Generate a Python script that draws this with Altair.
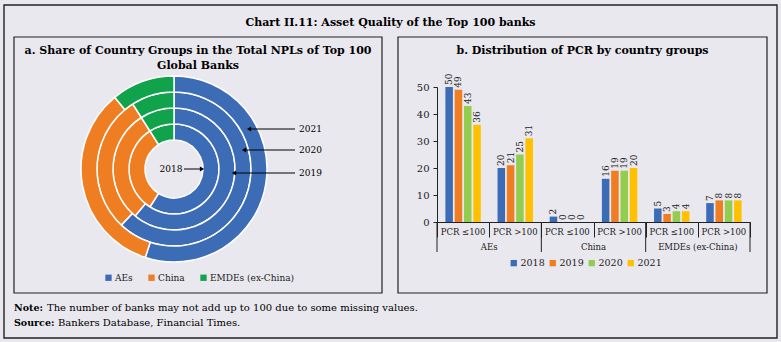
import altair as alt
import pandas as pd

# ---------------- data ----------------
years = ["2018", "2019", "2020", "2021"]
groups = ["AEs", "China", "EMDEs (ex-China)"]

# donut: share of NPLs (%) per year
ae_share = [59, 61, 62, 55]
china_share = [32, 30, 29, 34]
emde_share = [9, 9, 9, 11]

# bars: number of banks by PCR bucket
pcr_group = ["AEs", "AEs", "China", "China", "EMDEs (ex-China)", "EMDEs (ex-China)"]
pcr_bin = ["PCR ≤100", "PCR >100", "PCR ≤100", "PCR >100", "PCR ≤100", "PCR >100"]
v2018 = [50, 20, 2, 16, 5, 7]
v2019 = [49, 21, 0, 19, 3, 8]
v2020 = [43, 25, 0, 19, 4, 8]
v2021 = [36, 31, 0, 20, 4, 8]

# ---------------- styling ----------------
SERIF = "DejaVu Serif"
BG = "#e9e8ee"
INK = "#222222"
group_colors = ["#3d6cb6", "#ef7d22", "#11a24c"]
year_colors = ["#3d6cb6", "#ef7d22", "#92cd50", "#ffc000"]

# ---------------- tables ----------------
donut_rows = []
for yi, y in enumerate(years):
    for gi, (g, vals) in enumerate(zip(groups, [ae_share, china_share, emde_share])):
        donut_rows.append({"year": y, "group": g, "gi": gi, "share": vals[yi]})
donut_df = pd.DataFrame(donut_rows)

subs = [f"{g}|{b}" for g, b in zip(pcr_group, pcr_bin)]
bar_rows = []
for y, vals in zip(years, [v2018, v2019, v2020, v2021]):
    for s, g, b, v in zip(subs, pcr_group, pcr_bin, vals):
        bar_rows.append({"sub": s, "group": g, "bin": b, "year": y, "value": v})
bar_df = pd.DataFrame(bar_rows)
sub_df = pd.DataFrame({"sub": subs, "bin": pcr_bin, "group": pcr_group})
grp_first = sub_df.groupby("group", sort=False).nth(0).reset_index(drop=True)
grp_second = sub_df.groupby("group", sort=False).nth(1).reset_index(drop=True)

one = pd.DataFrame({"a": [0]})

# ---------------- shared scales ----------------
x_scale = alt.Scale(domain=subs, range=[437, 750], paddingInner=0, paddingOuter=0)
x_axis = alt.Axis(orient="bottom", offset=-120, labels=False, ticks=True, tickBand="extent",
                  tickSize=15, tickColor=INK, domainColor=INK, title=None, grid=False)
y_scale = alt.Scale(domain=[0, 50], range=[222, 87], nice=False)
y_axis = alt.Axis(orient="left", offset=-437, values=[0, 10, 20, 30, 40, 50], title=None, grid=False,
                  tickSize=4, tickColor=INK, domainColor=INK, labelFont=SERIF, labelFontSize=10,
                  labelColor=INK, labelPadding=4)


def X(**kw):
    return alt.X("sub:N", scale=x_scale, axis=x_axis, sort=subs, **kw)


# ---------------- frames ----------------
def box(x1, x2, y1, y2, sw=1.2):
    return alt.Chart(one).mark_rect(fill=None, stroke=INK, strokeWidth=sw).encode(
        x=alt.value(x1), x2=alt.value(x2), y=alt.value(y1), y2=alt.value(y2))


def label(text, x, y, size=10, weight="normal", align="center", lh=14):
    return alt.Chart(one).mark_text(text=text, font=SERIF, fontSize=size, fontWeight=weight,
                                    align=align, baseline="middle", color="black",
                                    lineHeight=lh).encode(x=alt.value(x), y=alt.value(y))


frames = [box(4, 777, 5, 338, 1.4), box(14, 382, 37, 293), box(398, 767, 37, 293)]
texts = [
    label("Chart II.11: Asset Quality of the Top 100 banks", 390.5, 23, size=11, weight="bold"),
    label(["a. Share of Country Groups in the Total NPLs of Top 100", "Global Banks"], 198, 51,
          size=11, weight="bold", lh=14.5),
    label("b. Distribution of PCR by country groups", 582.5, 51, size=11, weight="bold"),
    label("Note:", 14, 308, size=9.5, weight="bold", align="left"),
    label("The number of banks may not add up to 100 due to some missing values.", 47, 308,
          size=10, align="left"),
    label("Source:", 14, 323, size=9.5, weight="bold", align="left"),
    label("Bankers Database, Financial Times.", 58, 323, size=10, align="left"),
]

# ---------------- donut ----------------
CX, CY = 174, 169
radii = [29, 45, 61, 77, 93]
donut_legend = alt.Legend(orient="none", legendX=104, legendY=273, direction="horizontal", title=None,
                          symbolType="square", symbolSize=40, symbolStrokeWidth=0,
                          labelFont=SERIF, labelFontSize=9, labelColor=INK, columnPadding=14,
                          labelOffset=2)
rings = []
for i, y in enumerate(years):
    rings.append(
        alt.Chart(donut_df).transform_filter(alt.datum.year == y)
        .mark_arc(innerRadius=radii[i], outerRadius=radii[i + 1], stroke="white", strokeWidth=1.5)
        .encode(
            theta=alt.Theta("share:Q", stack="normalize"),
            color=alt.Color("group:N", scale=alt.Scale(domain=groups, range=group_colors),
                            legend=donut_legend),
            order=alt.Order("gi:Q"),
            x=alt.value(CX), y=alt.value(CY),
        )
    )
donut = alt.layer(*rings)

# ring annotations (arrows)
arrows = []
for txt, ty, x_to in [("2021", 129, 247), ("2020", 150, 242), ("2019", 173, 232)]:
    arrows.append(label(txt, 299, ty, size=9, align="left"))
    arrows.append(alt.Chart(one).mark_rule(color="black", strokeWidth=1).encode(
        x=alt.value(295), x2=alt.value(x_to + 3), y=alt.value(ty)))
    arrows.append(alt.Chart(one).mark_point(shape="triangle-left", filled=True, color="black",
                                            size=24, opacity=1).encode(
        x=alt.value(x_to + 2), y=alt.value(ty)))
arrows.append(label("2018", 171, 169, size=9))
arrows.append(alt.Chart(one).mark_rule(color="black", strokeWidth=1).encode(
    x=alt.value(184), x2=alt.value(201), y=alt.value(169)))
arrows.append(alt.Chart(one).mark_point(shape="triangle-right", filled=True, color="black",
                                        size=24, opacity=1).encode(
    x=alt.value(202), y=alt.value(169)))

# ---------------- bars ----------------
bar_legend = alt.Legend(orient="none", legendX=509, legendY=258, direction="horizontal", title=None,
                        symbolType="square", symbolSize=40, symbolStrokeWidth=0,
                        labelFont=SERIF, labelFontSize=9.5, labelColor=INK, columnPadding=3,
                        labelOffset=2)
xoff = alt.XOffset("year:N", sort=years, scale=alt.Scale(paddingInner=0.19, paddingOuter=0.9))
bars = alt.Chart(bar_df).mark_bar().encode(
    x=X(),
    xOffset=xoff,
    y=alt.Y("value:Q", scale=y_scale, axis=y_axis),
    color=alt.Color("year:N", scale=alt.Scale(domain=years, range=year_colors), legend=bar_legend),
)
bar_labels = alt.Chart(bar_df).mark_text(angle=270, align="left", baseline="middle", dx=2,
                                         font=SERIF, fontSize=9, color=INK).encode(
    x=X(), xOffset=xoff, y=alt.Y("value:Q", scale=y_scale, axis=y_axis), text="value:Q")
bar_layer = alt.layer(bars, bar_labels)

sub_labels = alt.Chart(sub_df).mark_text(font=SERIF, fontSize=8.5, color=INK, baseline="middle").encode(
    x=X(), y=alt.value(232), text="bin:N")
grp_labels = alt.Chart(grp_second).mark_text(font=SERIF, fontSize=8.5, color=INK, baseline="middle").encode(
    x=X(bandPosition=0), y=alt.value(247), text="group:N")
sep_start = alt.Chart(grp_first).mark_rule(color=INK, strokeWidth=1).encode(
    x=X(bandPosition=0), y=alt.value(222), y2=alt.value(252))
sep_end = alt.Chart(sub_df.tail(1)).mark_rule(color=INK, strokeWidth=1).encode(
    x=X(bandPosition=1), y=alt.value(222), y2=alt.value(252))

chart = alt.layer(
    *frames, donut, *arrows, bar_layer, sub_labels, grp_labels, sep_start, sep_end, *texts
).resolve_scale(color="independent").properties(
    width=781, height=342, autosize=alt.AutoSizeParams(type="none"), padding=0,
).configure(background=BG).configure_view(strokeWidth=0).configure_legend(labelFont=SERIF)

chart.save("out.html", embed_options={"renderer": "svg", "actions": False})
